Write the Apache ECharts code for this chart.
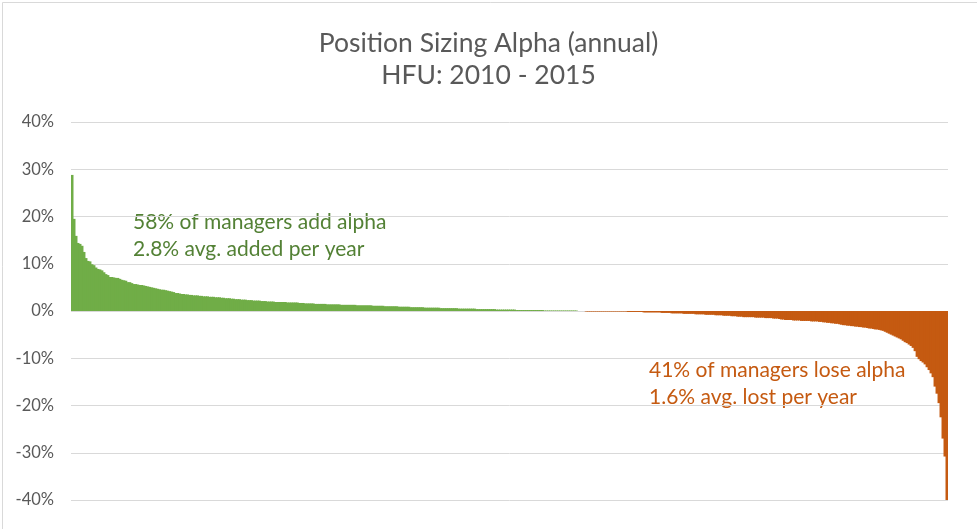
<!DOCTYPE html>
<html>
<head>
<meta charset="utf-8">
<script src="https://cdn.jsdelivr.net/npm/echarts@6/dist/echarts.min.js"></script>
<style>
html,body{margin:0;padding:0;background:#fff;}
#chart{width:977px;height:529px;}
</style>
</head>
<body>
<div id="chart"></div>
<script>
// Annual position sizing alpha (%) per manager, sorted high to low
const gainers = [
28.8,19.5,15.9,14.4,14.2,13.8,12.5,11.2,10.6,10.5,
9.9,9.7,9.2,8.9,8.8,8.6,8.2,7.8,7.6,7.2,
7.2,7.1,7.0,7.0,6.8,6.6,6.5,6.4,6.1,6.1,
5.9,5.7,5.7,5.6,5.5,5.5,5.4,5.3,5.2,5.1,
5.0,4.9,4.8,4.7,4.6,4.5,4.5,4.4,4.3,4.2,
4.1,4.0,3.8,3.8,3.7,3.6,3.6,3.5,3.5,3.4,
3.4,3.3,3.3,3.3,3.2,3.2,3.1,3.1,3.1,3.0,
3.0,3.0,2.9,2.9,2.9,2.8,2.8,2.7,2.7,2.7,
2.6,2.6,2.5,2.5,2.5,2.4,2.4,2.4,2.3,2.3,
2.3,2.2,2.2,2.2,2.2,2.1,2.1,2.1,2.0,2.0,
2.0,2.0,
1.9,1.9,1.9,1.9,1.9,1.9,1.8,1.8,1.8,1.8,1.8,1.8,1.7,
1.7,1.7,1.6,1.6,1.6,1.6,1.6,
1.5,1.5,1.5,1.5,1.5,1.5,1.4,1.4,1.4,1.4,1.4,1.4,1.4,
1.3,1.3,1.3,1.3,1.3,1.3,1.3,1.3,1.2,1.2,1.2,1.2,1.2,1.2,1.2,1.2,
1.1,1.1,1.1,1.1,1.1,1.1,1.0,1.0,1.0,1.0,1.0,1.0,1.0,
0.9,0.9,0.9,0.9,0.9,0.9,0.8,0.8,0.8,0.8,0.8,0.8,0.8,
0.7,0.7,0.7,0.7,0.7,0.7,0.7,0.7,0.6,0.6,0.6,0.6,0.6,0.6,0.6,0.6,0.6,
0.5,0.5,0.5,0.5,0.5,0.5,0.5,0.5,0.5,0.4,0.4,0.4,0.4,0.4,0.4,0.4,0.4,0.4,0.4,
0.3,0.3,0.3,0.3,0.3,0.3,0.3,0.3,0.3,0.3,
0.2,0.2,0.2,0.2,0.2,0.2,0.2,0.2,0.2,0.2,0.2,0.2,0.2,0.2,
0.1,0.1,0.1,0.1,0.1,0.1,0.1,0.1,0.1,0.1,0.1,0.1,0.1,0.1,0.1,0.1,0.1
];
const flat = [0,0,0,0];
const losers = [
-0.1,-0.1,-0.1,-0.1,-0.1,-0.1,-0.1,-0.1,-0.1,-0.1,-0.1,-0.1,-0.1,-0.1,-0.1,-0.1,-0.1,-0.1,-0.1,-0.1,-0.1,
-0.2,-0.2,-0.2,-0.2,-0.2,-0.2,-0.2,-0.2,-0.3,-0.3,-0.3,-0.3,-0.3,-0.3,-0.3,-0.3,-0.3,
-0.4,-0.4,-0.4,-0.4,-0.4,-0.5,-0.5,-0.5,-0.5,-0.5,-0.5,-0.6,-0.6,-0.6,-0.6,-0.6,-0.6,
-0.7,-0.7,-0.7,-0.7,-0.7,-0.8,-0.8,-0.8,-0.8,-0.8,-0.9,-0.9,-0.9,-0.9,
-1.0,-1.0,-1.0,-1.0,-1.1,-1.1,-1.1,-1.2,-1.2,-1.2,
-1.3,-1.3,-1.3,-1.3,-1.3,-1.3,-1.4,-1.4,-1.4,-1.4,-1.4,
-1.5,-1.5,-1.5,-1.5,-1.6,-1.6,-1.6,
-1.7,-1.8,-1.8,
-1.9,-1.9,-1.9,-1.9,-2.0,-2.0,-2.0,-2.0,
-2.1,-2.1,-2.1,-2.1,-2.1,-2.2,-2.2,-2.2,-2.2,
-2.3,-2.3,-2.4,-2.4,
-2.5,-2.5,-2.6,-2.6,
-2.7,-2.7,-2.8,-2.9,
-3.0,-3.0,-3.1,-3.1,
-3.2,-3.2,-3.3,-3.3,
-3.4,-3.4,-3.5,-3.5,
-3.6,-3.7,-3.7,
-3.8,-3.9,-3.9,
-4.0,-4.1,
-4.2,-4.4,
-4.6,-4.8,-5.0,-5.2,-5.4,-5.6,
-5.8,-6.0,-6.3,-6.6,-6.8,
-7.1,-7.4,-7.8,
-8.5,-9.7,-10.2,-10.6,-10.9,-11.3,-11.9,-12.5,-13.2,-14.0,-16.0,-17.5,-19.5,-22.5,-27.0,-30.8,-40.0
];
const titleLines = ['Position Sizing Alpha (annual)', 'HFU: 2010 - 2015'];
const gainNote = ['58% of managers add alpha', '2.8% avg. added per year'];
const lossNote = ['41% of managers lose alpha', '1.6% avg. lost per year'];
const yTicks = {min: -40, max: 40, interval: 10};

const GREEN = '#70ad47', ORANGE = '#c55a11';
const values = gainers.concat(flat, losers);
const managers = values.map((v, i) => 'M' + (i + 1));
const barData = values.map(v => ({
  value: v,
  itemStyle: {color: v >= 0 ? GREEN : ORANGE}
}));

const FONT = 'Lato, "Open Sans", sans-serif';
const chart = echarts.init(document.getElementById('chart'), null, {renderer: 'canvas'});
chart.setOption({
  animation: false,
  backgroundColor: '#ffffff',
  title: {
    text: titleLines.join('\n'),
    left: 'center',
    top: 22,
    textStyle: {fontFamily: FONT, fontSize: 26.5, fontWeight: 'normal', color: '#595959', lineHeight: 32}
  },
  grid: {left: 71, right: 29, top: 122, bottom: 29, containLabel: false},
  xAxis: {
    type: 'category',
    data: managers,
    axisLine: {show: false},
    axisTick: {show: false},
    axisLabel: {show: false},
    splitLine: {show: false}
  },
  yAxis: {
    type: 'value',
    min: yTicks.min, max: yTicks.max, interval: yTicks.interval,
    axisLine: {show: false},
    axisTick: {show: false},
    axisLabel: {formatter: '{value}%', fontFamily: FONT, fontSize: 16.5, color: '#595959', margin: 17},
    splitLine: {lineStyle: {color: '#d9d9d9', width: 1}}
  },
  series: [{
    type: 'bar',
    data: barData,
    barWidth: 3,
    barGap: '0%'
  }],
  graphic: [
    {type: 'rect', left: 0, top: 0, shape: {x: 0.5, y: 0.5, width: 976, height: 528}, style: {fill: 'none', stroke: '#d9d9d9', lineWidth: 1}, silent: true},
    {type: 'text', x: 133, y: 222, style: {text: gainNote[0], fill: '#538135', font: '21px ' + FONT, textVerticalAlign: 'middle'}},
    {type: 'text', x: 133, y: 249, style: {text: gainNote[1], fill: '#538135', font: '21px ' + FONT, textVerticalAlign: 'middle'}},
    {type: 'text', x: 649, y: 370, style: {text: lossNote[0], fill: '#c55a11', font: '21px ' + FONT, textVerticalAlign: 'middle'}},
    {type: 'text', x: 649, y: 397, style: {text: lossNote[1], fill: '#c55a11', font: '21px ' + FONT, textVerticalAlign: 'middle'}}
  ]
});
</script>
</body>
</html>
